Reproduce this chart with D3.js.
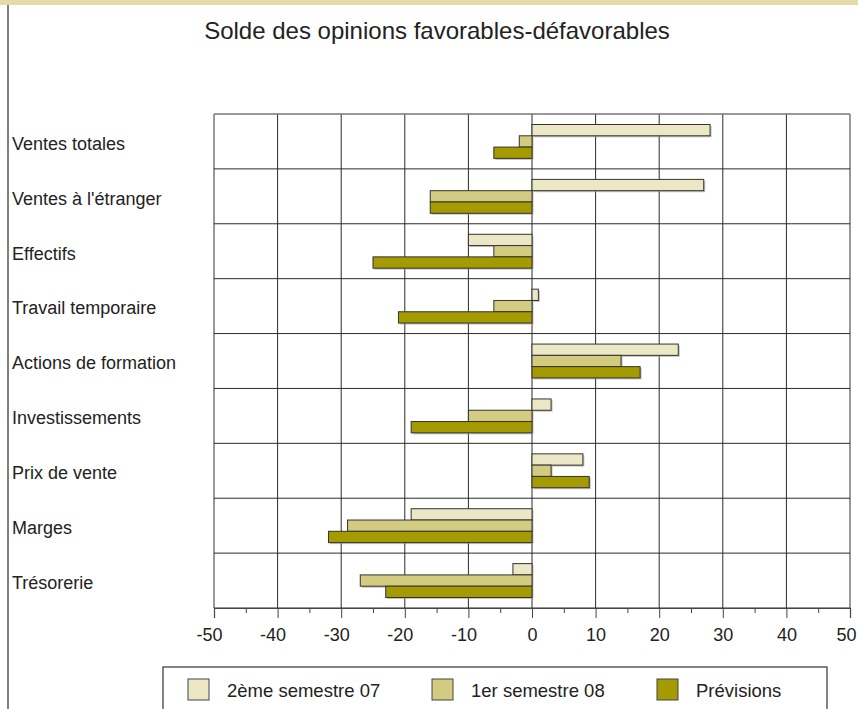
<!DOCTYPE html>
<html>
<head>
<meta charset="utf-8">
<script src="https://cdn.jsdelivr.net/npm/d3@7"></script>
<style>
  html, body { margin: 0; padding: 0; background: #fff; }
  svg { display: block; font-family: "Liberation Sans", Arial, Helvetica, sans-serif; }
</style>
</head>
<body>
<svg id="chart" width="858" height="709"></svg>
<script>
// Opinion balance (favourable minus unfavourable), by item
const categories = [
  "Ventes totales",
  "Ventes à l'étranger",
  "Effectifs",
  "Travail temporaire",
  "Actions de formation",
  "Investissements",
  "Prix de vente",
  "Marges",
  "Trésorerie"
];
const seriesNames = ["2ème semestre 07", "1er semestre 08", "Prévisions"];
const semestre2_07 = [28, 27, -10, 1, 23, 3, 8, -19, -3];
const semestre1_08 = [-2, -16, -6, -6, 14, -10, 3, -29, -27];
const previsions   = [-6, -16, -25, -21, 17, -19, 9, -32, -23];
const xTicks = [-50, -40, -30, -20, -10, 0, 10, 20, 30, 40, 50];
const xMinorTicks = [-45, -35, -25, -15, -5, 5, 15, 25, 35, 45];
const title = "Solde des opinions favorables-défavorables";

const colors = ["#ece8c5", "#d3cb80", "#a59a00"];
const seriesValues = [semestre2_07, semestre1_08, previsions];

const svg = d3.select("#chart");

// Header strip and left frame line
svg.append("rect").attr("x", 0).attr("y", 0).attr("width", 858).attr("height", 5).attr("fill", "#e3dcaa");
svg.append("line").attr("x1", 8).attr("x2", 8).attr("y1", 5).attr("y2", 709)
  .attr("stroke", "#555").attr("stroke-width", 1.5);

svg.append("text").attr("x", 437).attr("y", 39).attr("text-anchor", "middle")
  .attr("font-size", 24).attr("fill", "#222").text(title);

const plot = { left: 214, right: 850, top: 114, bottom: 608 };

const x = d3.scaleLinear().domain([-50, 50]).range([plot.left, plot.right]);
const y = d3.scaleBand().domain(categories).range([plot.top, plot.bottom]).paddingInner(0).paddingOuter(0);
const ySub = d3.scaleBand().domain(seriesNames).range([0, y.bandwidth()]).paddingInner(0).paddingOuter(0.93);

// Grid: vertical lines at major ticks
const grid = svg.append("g");
grid.selectAll("line.v").data(xTicks).join("line")
  .attr("x1", d => x(d)).attr("x2", d => x(d))
  .attr("y1", plot.top).attr("y2", plot.bottom)
  .attr("stroke", (d, i) => (i === 0 || i === xTicks.length - 1) ? "#777" : "#2a2a2a")
  .attr("stroke-width", (d, i) => (i === 0 || i === xTicks.length - 1) ? 1.5 : 1);

// Horizontal lines at band boundaries
const boundaries = categories.map(c => y(c)).concat([plot.bottom]);
grid.selectAll("line.h").data(boundaries).join("line")
  .attr("x1", plot.left).attr("x2", plot.right)
  .attr("y1", d => d).attr("y2", d => d)
  .attr("stroke", (d, i) => (i === 0) ? "#777" : "#2a2a2a")
  .attr("stroke-width", (d, i) => (i === 0) ? 1.5 : 1);

// Bars with a light drop shadow
const barData = [];
categories.forEach((c, ci) => {
  seriesNames.forEach((s, si) => {
    barData.push({ cat: c, series: s, si: si, value: seriesValues[si][ci] });
  });
});

const bars = svg.append("g");
bars.selectAll("rect.shadow").data(barData).join("rect")
  .attr("x", d => Math.min(x(0), x(d.value)) + 1.5)
  .attr("y", d => y(d.cat) + ySub(d.series) + 1.5)
  .attr("width", d => Math.abs(x(d.value) - x(0)))
  .attr("height", ySub.bandwidth())
  .attr("fill", "#999").attr("opacity", 0.6);

bars.selectAll("rect.bar").data(barData).join("rect")
  .attr("x", d => Math.min(x(0), x(d.value)))
  .attr("y", d => y(d.cat) + ySub(d.series))
  .attr("width", d => Math.abs(x(d.value) - x(0)))
  .attr("height", ySub.bandwidth())
  .attr("fill", d => colors[d.si])
  .attr("stroke", "#333").attr("stroke-width", 1);

// Category labels
svg.append("g").selectAll("text").data(categories).join("text")
  .attr("x", 12)
  .attr("y", d => y(d) + y.bandwidth() / 2 + 1.5)
  .attr("dy", "0.38em")
  .attr("font-size", 18)
  .attr("fill", "#222")
  .text(d => d);

// X axis with major and minor ticks
const axisG = svg.append("g").attr("transform", `translate(0,${plot.bottom})`);
axisG.call(d3.axisBottom(x).tickValues(xTicks).tickSize(10).tickPadding(10).tickFormat(d => String(d)));
axisG.select(".domain").attr("stroke", "#444").attr("stroke-width", 1.2);
axisG.selectAll(".tick line").attr("stroke", "#444");
axisG.selectAll(".tick text")
  .attr("font-size", 18).attr("fill", "#222")
  .attr("font-family", "Liberation Sans, Arial, sans-serif")
  .attr("dx", d => d < 0 ? -5 : (d === 50 ? -4 : 0));
const minorG = svg.append("g").attr("transform", `translate(0,${plot.bottom})`);
minorG.call(d3.axisBottom(x).tickValues(xMinorTicks).tickSize(5).tickFormat(""));
minorG.select(".domain").remove();
minorG.selectAll(".tick line").attr("stroke", "#444");

// Legend
const legend = svg.append("g");
legend.append("rect").attr("x", 163).attr("y", 667).attr("width", 664).attr("height", 60)
  .attr("fill", "#fff").attr("stroke", "#333").attr("stroke-width", 1.2);
const legendX = [188, 432, 657];
seriesNames.forEach((s, i) => {
  legend.append("rect").attr("x", legendX[i]).attr("y", 679).attr("width", 21).attr("height", 21)
    .attr("fill", colors[i]).attr("stroke", "#444").attr("stroke-width", 1);
  legend.append("text").attr("x", legendX[i] + 39).attr("y", 697)
    .attr("font-size", 18.5).attr("fill", "#222").text(s);
});
</script>
</body>
</html>
